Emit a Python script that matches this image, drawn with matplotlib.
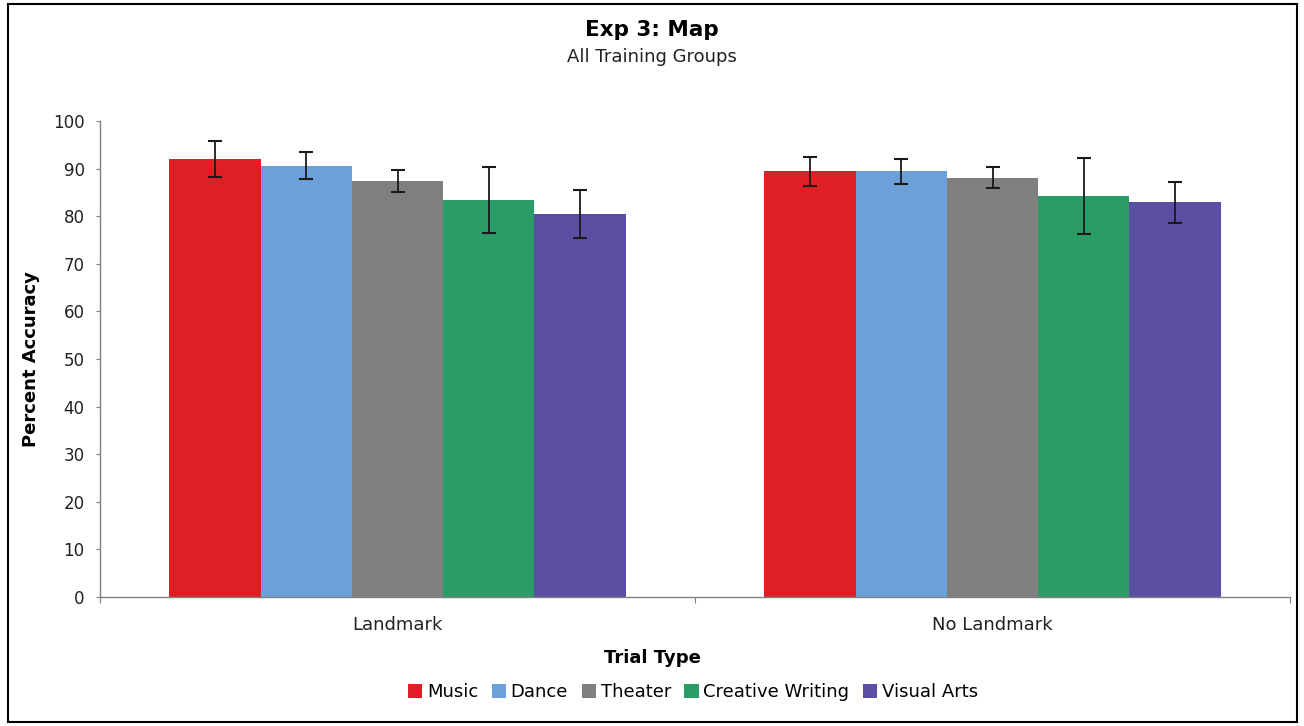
import matplotlib
matplotlib.use("Agg")
import matplotlib.pyplot as plt
import numpy as np
from matplotlib.patches import Rectangle

categories = ["Landmark", "No Landmark"]
groups = ["Music", "Dance", "Theater", "Creative Writing", "Visual Arts"]
music = [92.0, 89.4]
dance = [90.6, 89.4]
theater = [87.4, 88.1]
creative_writing = [83.4, 84.2]
visual_arts = [80.4, 82.9]
music_err = [3.8, 3.1]
dance_err = [2.8, 2.65]
theater_err = [2.35, 2.25]
creative_writing_err = [6.9, 8.0]
visual_arts_err = [5.0, 4.3]
yticks = [0, 10, 20, 30, 40, 50, 60, 70, 80, 90, 100]

values = [music, dance, theater, creative_writing, visual_arts]
errors = [music_err, dance_err, theater_err, creative_writing_err, visual_arts_err]
colors = ["#DF1F26", "#6CA0D8", "#7F807F", "#2A9C66", "#5B4FA4"]

plt.rcParams['font.family'] = ['DejaVu Sans']

W, H = 1304, 726
fig = plt.figure(figsize=(W / 100, H / 100), dpi=100)
ax = fig.add_axes([100 / W, 1 - 597 / H, 1190 / W, (597 - 121) / H])

bw = 0.1535
x = np.arange(len(categories))
for i, (vals, errs, c, name) in enumerate(zip(values, errors, colors, groups)):
    pos = x + (i - 2) * bw
    ax.bar(pos, vals, width=bw, color=c, label=name, linewidth=0)
    ax.errorbar(pos, vals, yerr=errs, fmt='none', ecolor='#1a1a1a',
                elinewidth=1.3, capsize=5, capthick=1.5)

ax.set_xlim(-0.5, 1.5)
ax.set_ylim(0, 100)
ax.set_yticks(yticks)
ax.set_yticklabels([str(t) for t in yticks], fontsize=12, color='#222222')
ax.set_xticks([-0.5, 0.5, 1.5])
ax.set_xticklabels([])
ax.set_xticks(x, minor=True)
ax.set_xticklabels(categories, minor=True, fontsize=13, color='#222222')
ax.tick_params(axis='x', which='minor', length=0, pad=14)
ax.tick_params(axis='x', which='major', length=4, color='#808080', direction='out')
ax.tick_params(axis='y', length=3, color='#808080', direction='out', pad=8)
for s in ['top', 'right']:
    ax.spines[s].set_visible(False)
for s in ['left', 'bottom']:
    ax.spines[s].set_color('#808080')
    ax.spines[s].set_linewidth(1.0)

fig.text(31 / W, 1 - 359 / H, "Percent Accuracy", rotation=90, ha='center', va='center',
         fontsize=13, fontweight='bold')
fig.text(0.5, 1 - 658 / H, "Trial Type", ha='center', va='center',
         fontsize=13, fontweight='bold')

fig.text(0.5, 1 - 30 / H, "Exp 3: Map", ha='center', va='center', fontsize=15.5, fontweight='bold')
fig.text(0.5, 1 - 57 / H, "All Training Groups", ha='center', va='center', fontsize=13, color='#222222')

leg = fig.legend(loc='center', bbox_to_anchor=(693 / W, 1 - 692 / H), ncol=5, frameon=False,
                 fontsize=13, handlelength=0.8, handleheight=0.8, handletextpad=0.25,
                 columnspacing=0.75, borderaxespad=0, borderpad=0)

fig.patches.append(Rectangle((8 / W, 4 / H), (1297 - 8) / W, (722 - 4) / H,
                             transform=fig.transFigure, fill=False,
                             edgecolor='black', linewidth=1.5))

fig.savefig("out.png", dpi=100)
